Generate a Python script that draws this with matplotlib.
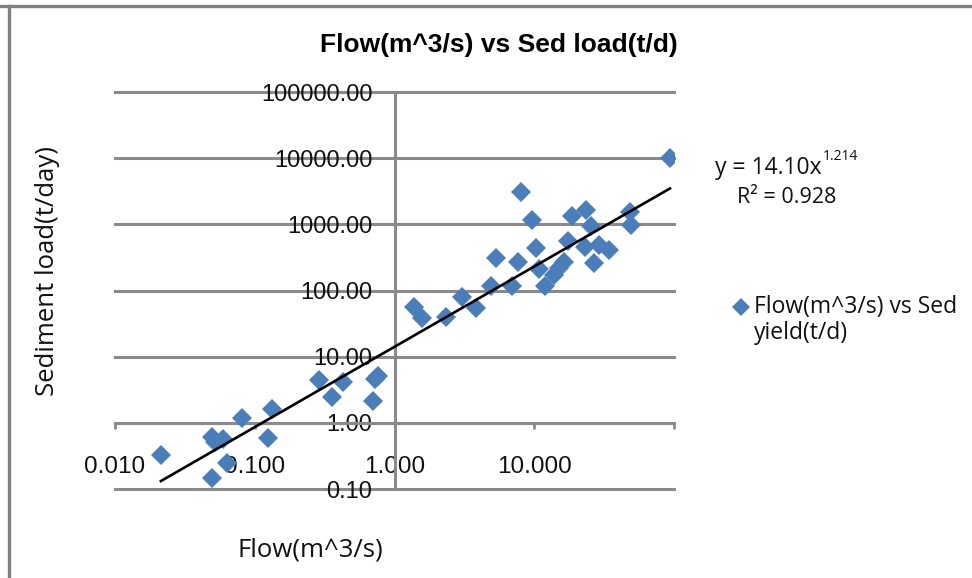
import numpy as np
import matplotlib.pyplot as plt
from matplotlib.lines import Line2D
from matplotlib.ticker import FixedLocator, FuncFormatter

flow = [0.0213, 0.0493, 0.0493, 0.0518, 0.0591, 0.0631, 0.0807, 0.124,
        0.132, 0.286, 0.355, 0.425, 0.697, 0.72, 0.756, 1.39, 1.58, 2.35,
        3.06, 3.85, 4.93, 5.35, 6.96, 7.69, 8.07, 9.68, 10.3, 10.9, 12.0,
        13.9, 15.1, 16.4, 17.5, 18.7, 23.5, 25.5, 23.1, 26.8, 29.1, 34.3,
        48.5, 49.3, 93.6]
sed_load = [0.329, 0.148, 0.615, 0.517, 0.574, 0.249, 1.19, 0.594,
            1.63, 4.45, 2.47, 4.15, 2.15, 4.61, 5.12, 56.2, 38.3, 39.7,
            79.5, 54.3, 116, 308, 116, 268, 3050, 1153, 436, 210, 116,
            171, 218, 268, 556, 1324, 1632, 936, 451, 259, 484, 407,
            1550, 969, 9930]

# Power trendline as printed on the chart
coef_a = 14.10
coef_b = 1.214
r_squared = 0.928

x_ticks = [0.01, 0.1, 1, 10, 100]
y_ticks = [0.1, 1, 10, 100, 1000, 10000, 100000]
series_label = ["Flow(m^3/s) vs Sed", "yield(t/d)"]

W, H = 972, 578
GRID = "#8a8a8a"
BLUE = "#4a7ebb"
INK = "#111111"
SANS = ["Open Sans", "DejaVu Sans"]
ARIAL = ["Liberation Sans", "DejaVu Sans"]


def fx(px):
    return px / W


def fy(py):
    return 1 - py / H


def x_label_fmt(v, pos):
    # Excel leaves the last decade (100) unlabelled
    return "" if v >= 100 else f"{v:.3f}"


fig = plt.figure(figsize=(W / 100, H / 100), dpi=100)
ax = fig.add_axes([fx(115), fy(489), (674 - 115) / W, (489 - 92) / H])
ax.set_xscale("log")
ax.set_yscale("log")
ax.set_xlim(0.01, 100)
ax.set_ylim(0.1, 100000)

# Axes cross at (1, 1) like the Excel log chart
for side in ["top", "right"]:
    ax.spines[side].set_visible(False)
ax.spines["left"].set_position(("data", 1))
ax.spines["bottom"].set_position(("data", 1))
for side in ["left", "bottom"]:
    ax.spines[side].set_color(GRID)
    ax.spines[side].set_linewidth(2.2)
    ax.spines[side].set_zorder(1)

ax.xaxis.set_major_locator(FixedLocator(x_ticks))
ax.yaxis.set_major_locator(FixedLocator(y_ticks))
ax.xaxis.set_minor_locator(FixedLocator([]))
ax.yaxis.set_minor_locator(FixedLocator([]))
ax.xaxis.set_major_formatter(FuncFormatter(x_label_fmt))
ax.yaxis.set_major_formatter(FuncFormatter(lambda v, p: f"{v:.2f}"))
ax.tick_params(axis="x", length=4, width=2, color=GRID, pad=20,
               labelsize=17.5, labelcolor=INK)
ax.tick_params(axis="y", length=0, pad=16, labelsize=17, labelcolor=INK)
for lab in ax.get_xticklabels() + ax.get_yticklabels():
    lab.set_family(ARIAL)

ax.yaxis.grid(True, color=GRID, linewidth=2.2)
ax.set_axisbelow(True)
for gl in ax.get_ygridlines():
    gl.set_clip_on(False)

ax.plot(flow, sed_load, linestyle="none", marker="D", markersize=10.5,
        color=BLUE, markeredgewidth=0, zorder=3)

xs = np.array([min(flow), max(flow)])
ax.plot(xs, coef_a * xs ** coef_b, color="black", linewidth=1.9, zorder=4)

# Titles and labels
fig.text(fx(499), fy(45), "Flow(m^3/s) vs Sed load(t/d)", ha="center",
         va="center", fontsize=19, fontweight="bold", family=ARIAL)
fig.text(fx(48), fy(271), "Sediment load(t/day)", rotation=90, ha="center",
         va="center", fontsize=18.5, family=SANS, color=INK)
fig.text(fx(310), fy(550), "Flow(m^3/s)", ha="center", va="center",
         fontsize=18.5, family=SANS, color=INK)

# Trendline equation
eq = fig.text(fx(715), fy(168), f"y = {coef_a:.2f}x", ha="left",
              va="center", fontsize=16.5, family=SANS, color=INK)
ax.annotate(f"{coef_b:.3f}", xy=(1, 0.68), xycoords=eq, xytext=(1, 0),
            textcoords="offset points", ha="left", va="bottom",
            fontsize=10, family=SANS, color=INK)
fig.text(fx(737), fy(198), f"R\u00b2 = {r_squared:.3f}", ha="left",
         va="center", fontsize=15.5, family=SANS, color=INK)

# Legend: key aligned with the first line of the wrapped label
fig.add_artist(Line2D([fx(741)], [fy(307)], marker="D", markersize=9,
                      color=BLUE, markeredgewidth=0,
                      transform=fig.transFigure))
for i, line in enumerate(series_label):
    fig.text(fx(754), fy(307 + 26 * i), line, ha="left", va="center",
             fontsize=16.5, family=SANS, color=INK)

# Grey frame along the top and left edges
fig.add_artist(Line2D([0, 1], [fy(5.5), fy(5.5)], color="#808080",
                      linewidth=2.4, transform=fig.transFigure))
fig.add_artist(Line2D([fx(9), fx(9)], [0, fy(5.5)], color="#808080",
                      linewidth=2.4, transform=fig.transFigure))

fig.savefig("out.png", dpi=100)
